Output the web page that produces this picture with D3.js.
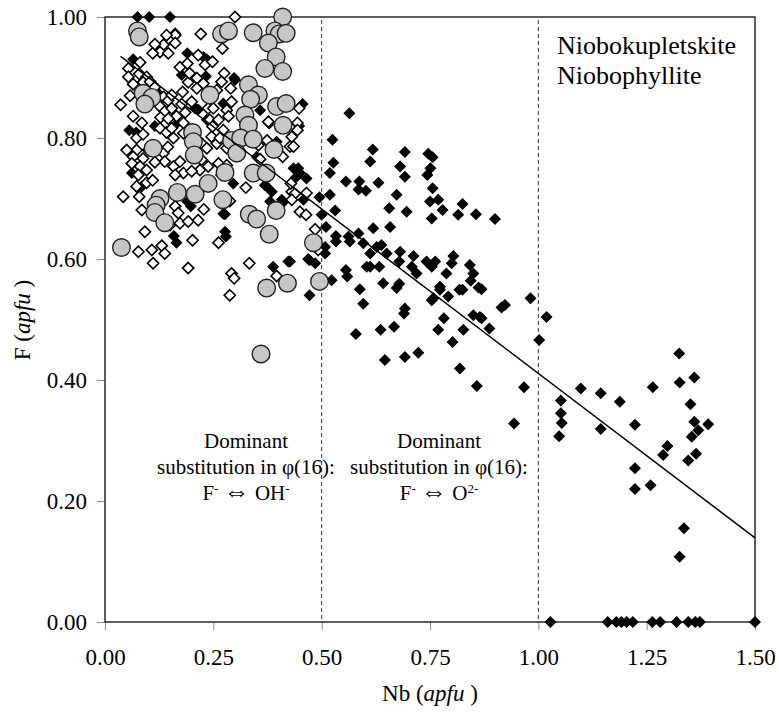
<!DOCTYPE html>
<html>
<head>
<meta charset="utf-8">
<script src="https://cdn.jsdelivr.net/npm/d3@7"></script>
<style>
  body { margin: 0; background: #fff; }
  text { font-family: "Liberation Serif", "Times New Roman", serif; fill: #000; }
</style>
</head>
<body>
<div id="chart"></div>
<script>
// F vs Nb scatter (apfu)

var xTicks = [0, 0.25, 0.5, 0.75, 1.0, 1.25, 1.5];
var yTicks = [0, 0.2, 0.4, 0.6, 0.8, 1.0];
var dividers = [0.5, 1.0];
var trend = [[0.036, 0.935], [1.5, 0.139]];

// filled diamonds
var blackPts = [
  [0.869,0.55],[0.869,0.502],[0.887,0.485],[0.915,0.52],[0.923,0.524],[0.982,0.535],[1.019,0.504],[1.002,0.466],
  [0.967,0.388],[0.944,0.328],[1.052,0.366],[1.052,0.345],[1.054,0.329],[1.048,0.307],[1.098,0.386],[1.144,0.378],
  [1.144,0.319],[1.188,0.364],[1.223,0.326],[1.223,0.254],[1.223,0.22],[1.264,0.388],[1.259,0.226],[1.288,0.276],
  [1.298,0.291],[1.325,0.444],[1.326,0.396],[1.36,0.404],[1.351,0.36],[1.36,0.331],[1.369,0.317],[1.354,0.306],
  [1.364,0.278],[1.346,0.267],[1.392,0.327],[1.336,0.155],[1.326,0.108],
  [1.028,0],[1.16,0],[1.18,0],[1.192,0],[1.204,0],[1.218,0],[1.263,0],[1.281,0],[1.319,0],[1.346,0],[1.362,0],[1.373,0],[1.5,0],
  [0.472,0.54],[0.588,0.55],[0.596,0.526],[0.579,0.476],[0.636,0.483],[0.667,0.488],[0.646,0.433],[0.692,0.438],
  [0.723,0.445],[0.642,0.56],[0.673,0.552],[0.692,0.518],[0.69,0.51],[0.754,0.532],[0.773,0.549],[0.792,0.538],
  [0.782,0.502],[0.769,0.483],[0.802,0.463],[0.825,0.549],[0.827,0.483],[0.85,0.507],[0.865,0.504],[0.819,0.419],[0.858,0.39],
  [0.564,0.841],[0.525,0.797],[0.618,0.781],[0.612,0.761],[0.692,0.777],[0.746,0.774],[0.756,0.768],[0.751,0.75],
  [0.744,0.739],[0.681,0.753],[0.692,0.736],[0.527,0.759],[0.519,0.742],[0.556,0.728],[0.587,0.728],[0.585,0.715],
  [0.602,0.713],[0.631,0.726],[0.673,0.706],[0.756,0.717],[0.519,0.706],[0.495,0.702],[0.656,0.684],[0.696,0.678],
  [0.75,0.695],[0.769,0.698],[0.779,0.681],[0.754,0.667],[0.815,0.673],[0.825,0.691],[0.856,0.674],[0.9,0.666],
  [0.531,0.68],[0.5,0.673],[0.51,0.653],[0.533,0.638],[0.533,0.629],[0.508,0.62],[0.508,0.609],[0.562,0.637],
  [0.585,0.642],[0.565,0.629],[0.596,0.626],[0.619,0.651],[0.658,0.653],[0.627,0.62],[0.638,0.623],[0.65,0.609],
  [0.612,0.609],[0.612,0.587],[0.633,0.587],[0.681,0.612],[0.712,0.605],[0.679,0.596],[0.708,0.587],[0.719,0.576],
  [0.742,0.596],[0.762,0.596],[0.754,0.587],[0.788,0.576],[0.804,0.605],[0.8,0.593],[0.842,0.59],[0.85,0.576],
  [0.862,0.553],[0.844,0.564],[0.818,0.549],[0.773,0.554],[0.758,0.535],[0.679,0.559],[0.556,0.582],[0.559,0.571],
  [0.523,0.565],[0.604,0.587],
  [0.456,0.856],[0.448,0.82],[0.435,0.75],[0.45,0.742],[0.465,0.733],[0.373,0.72],[0.385,0.711],[0.408,0.698],
  [0.381,0.695],[0.458,0.698],[0.427,0.596],[0.388,0.587],[0.472,0.598],[0.485,0.593],
  [0.075,1.0],[0.102,1.0],[0.15,1.0],[0.056,0.813],[0.072,0.809],[0.115,0.82],[0.164,0.823],[0.215,0.847],
  [0.233,0.902],[0.19,0.94],[0.177,0.904],[0.065,0.93],[0.123,0.874],[0.227,0.934],[0.162,0.973],[0.235,0.93],
  [0.3,0.896],[0.358,0.846],[0.235,0.83],[0.208,0.849],[0.273,0.857],[0.296,0.725],[0.062,0.742],[0.085,0.72],
  [0.127,0.865],[0.277,0.674],[0.277,0.645],[0.279,0.637],[0.165,0.627],[0.159,0.638],[0.198,0.687],[0.19,0.695],
  [0.41,0.693],[0.469,0.6],[0.369,0.722],[0.273,0.675],[0.423,0.596],[0.298,0.899],[0.35,0.769],[0.396,0.794],
  [0.446,0.75],[0.442,0.736]
];

// open diamonds
var openPts = [
  [0.3,1.0],[0.221,0.972],[0.162,0.97],[0.142,0.97],[0.135,0.954],[0.162,0.957],[0.127,0.942],[0.146,0.94],
  [0.036,0.855],[0.054,0.915],[0.081,0.925],[0.054,0.901],[0.079,0.906],[0.096,0.901],[0.088,0.892],[0.065,0.889],
  [0.104,0.893],[0.115,0.884],[0.135,0.868],[0.146,0.862],[0.127,0.852],[0.138,0.844],[0.154,0.849],[0.165,0.836],
  [0.128,0.834],[0.146,0.832],[0.177,0.856],[0.185,0.842],[0.179,0.876],[0.154,0.871],[0.192,0.892],[0.173,0.917],
  [0.19,0.923],[0.195,0.907],[0.212,0.899],[0.212,0.882],[0.227,0.89],[0.231,0.921],[0.215,0.937],
  [0.065,0.836],[0.085,0.825],[0.073,0.8],[0.088,0.806],[0.127,0.816],[0.142,0.809],[0.158,0.8],[0.181,0.808],
  [0.154,0.816],[0.073,0.78],[0.065,0.769],[0.088,0.766],[0.062,0.758],[0.081,0.753],[0.096,0.747],[0.077,0.739],
  [0.135,0.775],[0.138,0.761],[0.158,0.753],[0.173,0.761],[0.181,0.742],[0.162,0.739],[0.223,0.791],[0.235,0.783],
  [0.223,0.764],[0.238,0.753],[0.219,0.747],[0.246,0.802],[0.242,0.83],[0.238,0.849],[0.181,0.825],
  [0.271,0.948],[0.248,0.926],[0.275,0.907],[0.29,0.882],[0.269,0.893],[0.258,0.879],[0.25,0.849],[0.292,0.86],
  [0.281,0.846],[0.262,0.83],[0.285,0.836],[0.248,0.819],[0.273,0.813],[0.379,0.825],[0.448,0.849],[0.444,0.825],
  [0.431,0.802],[0.444,0.813],[0.427,0.786],[0.41,0.769],[0.374,0.796],[0.354,0.788],[0.258,0.791],[0.281,0.783],
  [0.262,0.758],[0.281,0.755],[0.358,0.765],[0.269,0.739],
  [0.042,0.703],[0.073,0.72],[0.079,0.703],[0.096,0.726],[0.085,0.681],[0.162,0.687],[0.15,0.656],[0.173,0.659],
  [0.192,0.662],[0.215,0.664],[0.228,0.682],[0.169,0.676],[0.092,0.645],[0.077,0.612],[0.108,0.615],[0.131,0.622],
  [0.138,0.609],[0.111,0.593],[0.202,0.631],[0.192,0.585],[0.262,0.627],[0.325,0.718],[0.333,0.593],[0.292,0.576],
  [0.298,0.568],[0.288,0.54],[0.396,0.572],[0.45,0.678],[0.464,0.673],[0.485,0.649],[0.492,0.615],[0.431,0.711],
  [0.465,0.709],[0.288,0.696],[0.377,0.827],[0.435,0.786],[0.429,0.725],[0.438,0.708],[0.431,0.698],
  [0.11,0.94],[0.1,0.87],[0.058,0.87],[0.1,0.78],[0.115,0.76],[0.2,0.745],[0.145,0.785],[0.2,0.86],
  [0.265,0.8],[0.11,0.73],[0.05,0.78],[0.115,0.955]
];

// grey circles
var greyPts = [
  [0.038,0.619],[0.075,0.977],[0.079,0.967],[0.088,0.874],[0.108,0.867],[0.092,0.856],[0.111,0.783],[0.202,0.809],
  [0.204,0.794],[0.206,0.772],[0.242,0.871],[0.41,1.0],[0.269,0.972],[0.285,0.977],[0.342,0.974],[0.392,0.977],
  [0.402,0.972],[0.418,0.973],[0.377,0.957],[0.395,0.934],[0.369,0.915],[0.41,0.91],[0.331,0.888],[0.354,0.871],
  [0.336,0.864],[0.396,0.852],[0.418,0.857],[0.323,0.838],[0.331,0.821],[0.411,0.821],[0.292,0.796],[0.313,0.8],
  [0.342,0.798],[0.304,0.775],[0.39,0.781],[0.277,0.743],[0.342,0.742],[0.372,0.742],[0.127,0.7],[0.118,0.689],
  [0.115,0.677],[0.138,0.66],[0.167,0.71],[0.208,0.707],[0.238,0.725],[0.272,0.698],[0.333,0.674],[0.35,0.666],
  [0.395,0.68],[0.379,0.641],[0.481,0.627],[0.421,0.56],[0.373,0.552],[0.495,0.563],[0.36,0.443]
];

var width = 779, height = 713;
var margin = {left: 105, right: 24, top: 17, bottom: 91};

var svg = d3.select("#chart").append("svg")
  .attr("width", width)
  .attr("height", height);

var x = d3.scaleLinear().domain([0, 1.5]).range([margin.left, width - margin.right]);
var y = d3.scaleLinear().domain([0, 1]).range([height - margin.bottom, margin.top]);

// axes
var xAxis = svg.append("g")
  .attr("transform", "translate(0," + y(0) + ")")
  .call(d3.axisBottom(x).tickValues(xTicks).tickSize(8).tickPadding(17).tickFormat(d3.format(".2f")));
var yAxis = svg.append("g")
  .attr("transform", "translate(" + x(0) + ",0)")
  .call(d3.axisLeft(y).tickValues(yTicks).tickSize(8).tickPadding(10).tickFormat(d3.format(".2f")));

[xAxis, yAxis].forEach(function(a) {
  a.attr("font-family", null);
  a.select(".domain").remove();
  a.selectAll(".tick line").attr("stroke", "#8a8a8a").attr("stroke-width", 1);
  a.selectAll(".tick text").style("font-size", "23px").attr("fill", "#000");
});
xAxis.selectAll(".tick text").attr("dy", "0.8em");
yAxis.selectAll(".tick text").attr("dy", "0.33em");

// frame
svg.append("rect")
  .attr("x", x(0)).attr("y", y(1))
  .attr("width", x(1.5) - x(0)).attr("height", y(0) - y(1))
  .attr("fill", "none").attr("stroke", "#2a2a2a").attr("stroke-width", 1.5);

// dividers
svg.selectAll(".divider").data(dividers).enter()
  .append("line")
  .attr("class", "divider")
  .attr("x1", function(d) { return x(d); }).attr("x2", function(d) { return x(d); })
  .attr("y1", y(0.995)).attr("y2", y(0))
  .attr("stroke", "#333").attr("stroke-width", 1)
  .attr("stroke-dasharray", "4,3");

// markers
var diamond = function(s) {
  return "M0," + (-s) + "L" + s + ",0L0," + s + "L" + (-s) + ",0Z";
};

svg.append("g").selectAll("path").data(blackPts).enter()
  .append("path")
  .attr("d", diamond(6))
  .attr("transform", function(d) { return "translate(" + x(d[0]) + "," + y(d[1]) + ")"; })
  .attr("fill", "#000");

svg.append("g").selectAll("path").data(openPts).enter()
  .append("path")
  .attr("d", diamond(5.6))
  .attr("transform", function(d) { return "translate(" + x(d[0]) + "," + y(d[1]) + ")"; })
  .attr("fill", "#fff").attr("stroke", "#000").attr("stroke-width", 1.6);

svg.append("g").selectAll("circle").data(greyPts).enter()
  .append("circle")
  .attr("cx", function(d) { return x(d[0]); })
  .attr("cy", function(d) { return y(d[1]); })
  .attr("r", 8.8)
  .attr("fill", "#c6c6c6").attr("stroke", "#222").attr("stroke-width", 1.4);

// trend line
svg.append("path")
  .datum(trend)
  .attr("d", d3.line().x(function(d) { return x(d[0]); }).y(function(d) { return y(d[1]); }))
  .attr("fill", "none").attr("stroke", "#000").attr("stroke-width", 1.5);

// labels
svg.append("text").attr("x", 557).attr("y", 54).style("font-size", "26px").text("Niobokupletskite");
svg.append("text").attr("x", 557).attr("y", 84).style("font-size", "26px").text("Niobophyllite");

var note = function(cx, last) {
  var g = svg.append("g").style("font-size", "21px").attr("text-anchor", "middle");
  g.append("text").attr("x", cx).attr("y", 448).text("Dominant");
  g.append("text").attr("x", cx).attr("y", 474).text("substitution in \u03C6(16):");
  var t = g.append("text").attr("x", cx).attr("y", 500);
  t.append("tspan").text("F");
  t.append("tspan").attr("dy", -7).style("font-size", "13px").text("-");
  t.append("tspan").attr("dy", 7).text("\u00A0");
  t.append("tspan").style("font-size", "26px").text("\u21D4");
  t.append("tspan").text("\u00A0" + last[0]);
  t.append("tspan").attr("dy", -7).style("font-size", "13px").text(last[1]);
};
note(246, ["OH", "-"]);
note(439, ["O", "2-"]);

var xl = svg.append("text").attr("x", 430).attr("y", 701).attr("text-anchor", "middle").style("font-size", "23px");
xl.append("tspan").text("Nb (");
xl.append("tspan").style("font-style", "italic").text("apfu");
xl.append("tspan").text(" )");

var yl = svg.append("text")
  .attr("transform", "translate(30," + 320 + ") rotate(-90)")
  .attr("text-anchor", "middle").style("font-size", "23px");
yl.append("tspan").text("F (");
yl.append("tspan").style("font-style", "italic").text("apfu");
yl.append("tspan").text(" )");
</script>
</body>
</html>
